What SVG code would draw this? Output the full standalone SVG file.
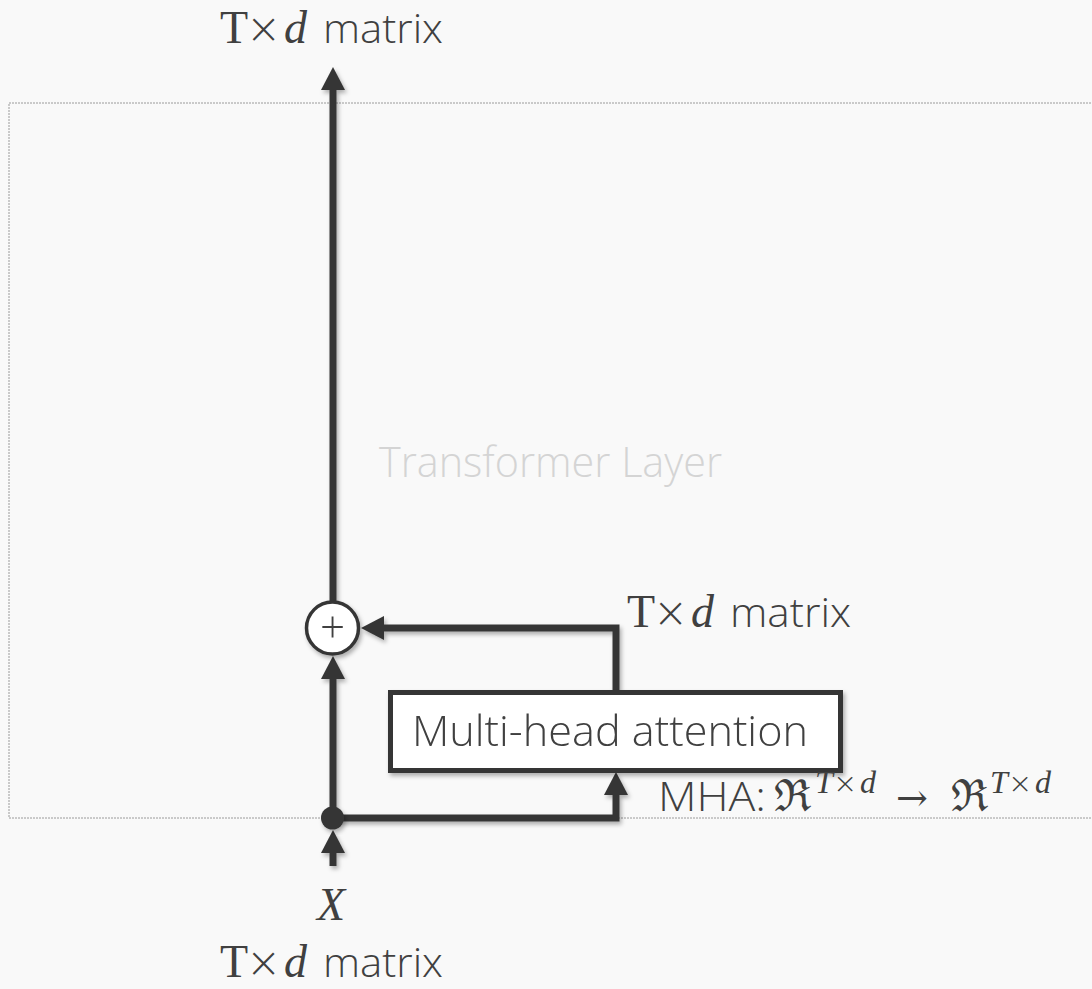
<svg xmlns="http://www.w3.org/2000/svg" width="1092" height="989" viewBox="0 0 1092 989">
<style>
.line{fill:none;stroke:#363636;stroke-width:7;stroke-linejoin:miter}
.sans{font-family:"Open Sans","Liberation Sans",sans-serif;font-weight:300;fill:#404040}
.serif{font-family:"Liberation Serif","DejaVu Serif",serif;fill:#404040}
.times{font-family:"DejaVu Sans",sans-serif;font-weight:300;fill:#404040}
.it{font-style:italic}
.math{font-family:"DejaVu Serif","Liberation Serif",serif;fill:#404040}
</style>
<defs>
<filter id="sh" x="-20%" y="-20%" width="140%" height="140%">
<feDropShadow dx="2" dy="3" stdDeviation="2" flood-color="#000" flood-opacity="0.3"/>
</filter>
<marker id="ah" markerUnits="userSpaceOnUse" markerWidth="24" markerHeight="24" refX="0" refY="12" orient="auto" overflow="visible">
<path d="M0,0 L23,12 L0,24 Z" fill="#363636"/>
</marker>
</defs>
<rect width="1092" height="989" fill="#f9f9f9"/>
<g id="transformer-layer">
<rect x="9" y="103" width="1100" height="715" fill="none" stroke="#9a9a9a" stroke-width="1" stroke-dasharray="2,1"/>
<text class="sans" x="379" y="477" font-size="42" style="fill:#d4d4d4" textLength="343" lengthAdjust="spacingAndGlyphs">Transformer Layer</text>
</g>
<g id="connectors" filter="url(#sh)">
<path class="line" d="M333,601 L333,90" marker-end="url(#ah)"/>
<path class="line" d="M333,818 L333,679" marker-end="url(#ah)"/>
<path class="line" d="M616,691 L616,628 L384,628" marker-end="url(#ah)"/>
<path class="line" d="M333,818 L616,818 L616,795" marker-end="url(#ah)"/>
<path class="line" d="M333,866 L333,853" marker-end="url(#ah)"/>
</g>
<g id="add-node" filter="url(#sh)">
<circle cx="332.5" cy="628" r="26" fill="#fff" stroke="#363636" stroke-width="3.5"/>
<text class="sans" x="332.5" y="643" font-size="44" text-anchor="middle">+</text>
</g>
<g id="split-dot" filter="url(#sh)">
<circle cx="332.5" cy="818" r="11.5" fill="#363636"/>
</g>
<g id="mha" filter="url(#sh)">
<rect x="390.5" y="692.5" width="450" height="78" fill="#fff" stroke="#363636" stroke-width="5"/>
<text class="sans" x="412" y="746" font-size="42" textLength="396" lengthAdjust="spacingAndGlyphs">Multi-head attention</text>
</g>
<g id="label-top">
<text class="serif" x="220" y="43" font-size="46">T</text>
<text class="times" x="246" y="43" font-size="42">×</text>
<text class="serif it" x="284" y="43" font-size="46">d</text>
<text class="sans" x="323" y="43" font-size="40" textLength="120" lengthAdjust="spacingAndGlyphs">matrix</text>
</g>
<g id="label-mid">
<text class="serif" x="627" y="627" font-size="46">T</text>
<text class="times" x="653" y="627" font-size="42">×</text>
<text class="serif it" x="691" y="627" font-size="46">d</text>
<text class="sans" x="730" y="627" font-size="40" textLength="121" lengthAdjust="spacingAndGlyphs">matrix</text>
</g>
<g id="label-mha">
<text class="sans" x="658" y="811" font-size="40" textLength="108" lengthAdjust="spacingAndGlyphs">MHA:</text>
<text class="math" x="774" y="811" font-size="44">ℜ</text>
<text class="serif it" x="815" y="793" font-size="32">T</text>
<text class="times" x="833" y="793" font-size="29">×</text>
<text class="serif it" x="860" y="793" font-size="32">d</text>
<text class="math" x="896" y="811" font-size="38">→</text>
<text class="math" x="951" y="811" font-size="44">ℜ</text>
<text class="serif it" x="990" y="793" font-size="32">T</text>
<text class="times" x="1008" y="793" font-size="29">×</text>
<text class="serif it" x="1035" y="793" font-size="32">d</text>
</g>
<g id="label-x">
<text class="serif it" x="317" y="920" font-size="46">X</text>
</g>
<g id="label-bottom">
<text class="serif" x="220" y="977" font-size="46">T</text>
<text class="times" x="246" y="977" font-size="42">×</text>
<text class="serif it" x="284" y="977" font-size="46">d</text>
<text class="sans" x="323" y="977" font-size="40" textLength="120" lengthAdjust="spacingAndGlyphs">matrix</text>
</g>
</svg>
